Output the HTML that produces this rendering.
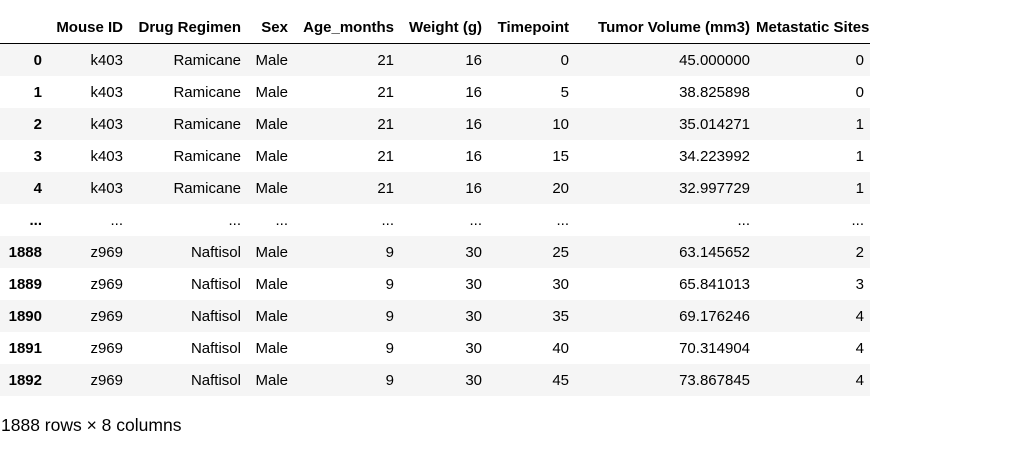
<!DOCTYPE html>
<html><head><meta charset="utf-8">
<style>
body{margin:0;background:#fff;width:1017px;height:455px;overflow:hidden;font-family:"Liberation Sans",Arial,sans-serif;font-size:15px;color:#000}
table{position:absolute;left:0;top:11px;border-collapse:collapse;table-layout:fixed;width:870px}
th,td{padding:0 6px 0 0;text-align:right;white-space:nowrap;overflow:visible;font-size:15px}
thead th{height:32px;border-bottom:1px solid #000;font-weight:bold}
tbody tr{height:32px}
tbody td,tbody th{height:31px;padding-top:1px}
tbody th{font-weight:bold}
tbody tr:nth-child(odd){background:#f5f5f5}
.foot{position:absolute;left:1px;top:415px;font-size:17.5px}
</style></head><body>
<table>
<colgroup><col style="width:48px"><col style="width:81px"><col style="width:118px"><col style="width:47px"><col style="width:106px"><col style="width:88px"><col style="width:87px"><col style="width:181px"><col style="width:114px"></colgroup>
<thead><tr><th></th><th>Mouse ID</th><th>Drug Regimen</th><th>Sex</th><th>Age_months</th><th>Weight (g)</th><th>Timepoint</th><th>Tumor Volume (mm3)</th><th>Metastatic Sites</th></tr></thead>
<tbody>
<tr><th>0</th><td>k403</td><td>Ramicane</td><td>Male</td><td>21</td><td>16</td><td>0</td><td>45.000000</td><td>0</td></tr>
<tr><th>1</th><td>k403</td><td>Ramicane</td><td>Male</td><td>21</td><td>16</td><td>5</td><td>38.825898</td><td>0</td></tr>
<tr><th>2</th><td>k403</td><td>Ramicane</td><td>Male</td><td>21</td><td>16</td><td>10</td><td>35.014271</td><td>1</td></tr>
<tr><th>3</th><td>k403</td><td>Ramicane</td><td>Male</td><td>21</td><td>16</td><td>15</td><td>34.223992</td><td>1</td></tr>
<tr><th>4</th><td>k403</td><td>Ramicane</td><td>Male</td><td>21</td><td>16</td><td>20</td><td>32.997729</td><td>1</td></tr>
<tr><th>...</th><td>...</td><td>...</td><td>...</td><td>...</td><td>...</td><td>...</td><td>...</td><td>...</td></tr>
<tr><th>1888</th><td>z969</td><td>Naftisol</td><td>Male</td><td>9</td><td>30</td><td>25</td><td>63.145652</td><td>2</td></tr>
<tr><th>1889</th><td>z969</td><td>Naftisol</td><td>Male</td><td>9</td><td>30</td><td>30</td><td>65.841013</td><td>3</td></tr>
<tr><th>1890</th><td>z969</td><td>Naftisol</td><td>Male</td><td>9</td><td>30</td><td>35</td><td>69.176246</td><td>4</td></tr>
<tr><th>1891</th><td>z969</td><td>Naftisol</td><td>Male</td><td>9</td><td>30</td><td>40</td><td>70.314904</td><td>4</td></tr>
<tr><th>1892</th><td>z969</td><td>Naftisol</td><td>Male</td><td>9</td><td>30</td><td>45</td><td>73.867845</td><td>4</td></tr>
</tbody></table>
<div class="foot">1888 rows × 8 columns</div>
</body></html>
